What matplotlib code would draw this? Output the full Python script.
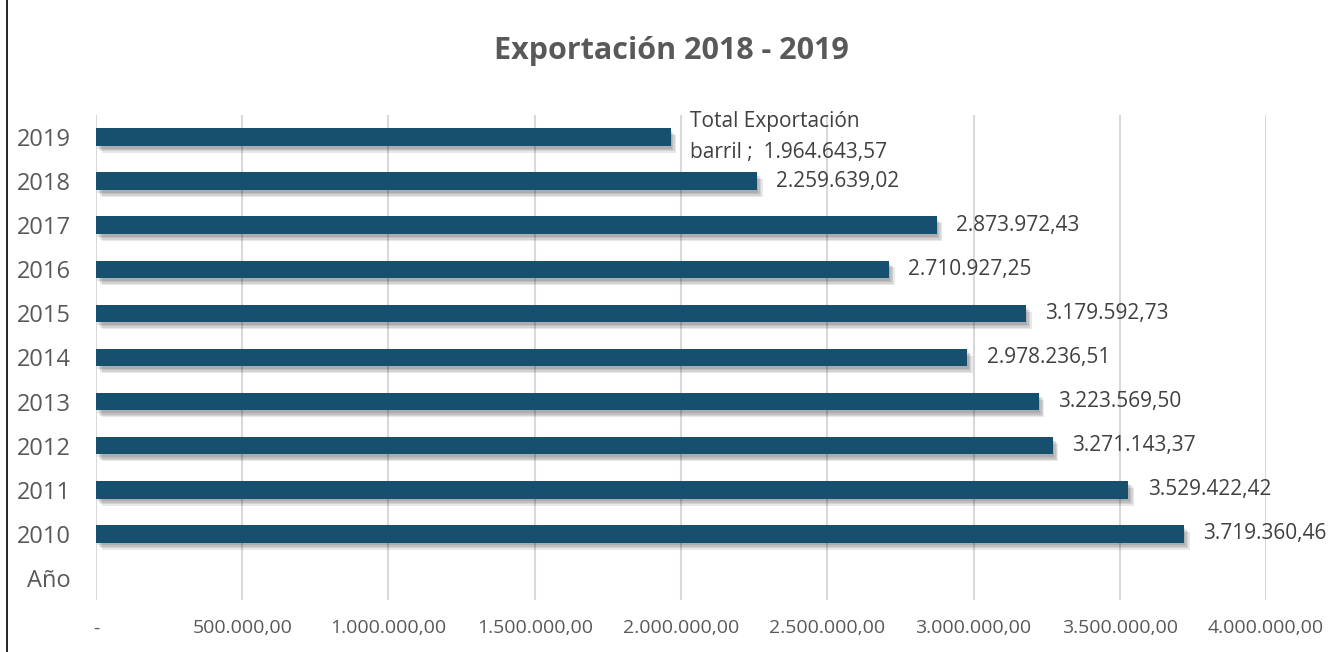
import numpy as np
import matplotlib
matplotlib.use('Agg')
import matplotlib.pyplot as plt
import matplotlib.patheffects as pe
from matplotlib.lines import Line2D

''' Data '''
years = ['Año', '2010', '2011', '2012', '2013', '2014', '2015', '2016', '2017', '2018', '2019']
values = [np.nan, 3719360.46, 3529422.42, 3271143.37, 3223569.50, 2978236.51,
          3179592.73, 2710927.25, 2873972.43, 2259639.02, 1964643.57]
xticks = [0, 500000, 1000000, 1500000, 2000000, 2500000, 3000000, 3500000, 4000000]
title = 'Exportación 2018 - 2019'

def fmt(v):
    s = '{:,.2f}'.format(v)
    return s.replace(',', '#').replace('.', ',').replace('#', '.')

plt.rcParams['font.family'] = ['Open Sans', 'DejaVu Sans']
gray = '#595959'
bar_color = '#16506e'

fig = plt.figure(figsize=(13.42, 6.52), dpi=100)
ax = fig.add_axes([0.0715, 0.0798, 0.9434 - 0.0715, 0.8236 - 0.0798])

y = np.arange(len(years))
bars = ax.barh(y, values, height=0.4, color=bar_color, zorder=3)
# soft drop shadow
shadow = [pe.SimplePatchShadow(offset=(d, -d - 1), shadow_rgbFace='black', alpha=0.09) for d in (1, 2, 3, 4)]
for b in bars:
    b.set_path_effects(shadow + [pe.Normal()])

ax.set_xlim(0, 4000000)
ax.set_ylim(-0.5, len(years) - 0.5)
ax.set_yticks(y)
ax.set_yticklabels(years, fontsize=17, color=gray)
ax.set_xticks(xticks)
ax.set_xticklabels(['-'] + [fmt(v) for v in xticks[1:]], fontsize=14, color=gray)
ax.tick_params(axis='both', length=0)
ax.tick_params(axis='y', pad=18)
ax.tick_params(axis='x', pad=14)
ax.grid(axis='x', color='#d9d9d9', linewidth=1.5, zorder=0)
for s in ax.spines.values():
    s.set_visible(False)

for i, v in enumerate(values):
    if np.isnan(v):
        continue
    txt = fmt(v)
    if years[i] == '2019':
        txt = 'Total Exportación\nbarril ;  ' + txt
    ax.annotate(txt, (v, i), xytext=(14, 0), textcoords='offset points',
                ha='left', va='center', fontsize=15, color='#404040', linespacing=1.6)

fig.text(0.5, 0.922, title, ha='center', va='center', fontsize=22, fontweight='bold', color=gray)
fig.add_artist(Line2D([0.0055, 0.0055], [0, 1], color='black', linewidth=1.2))

plt.savefig('out.png', dpi=100, facecolor='white')
